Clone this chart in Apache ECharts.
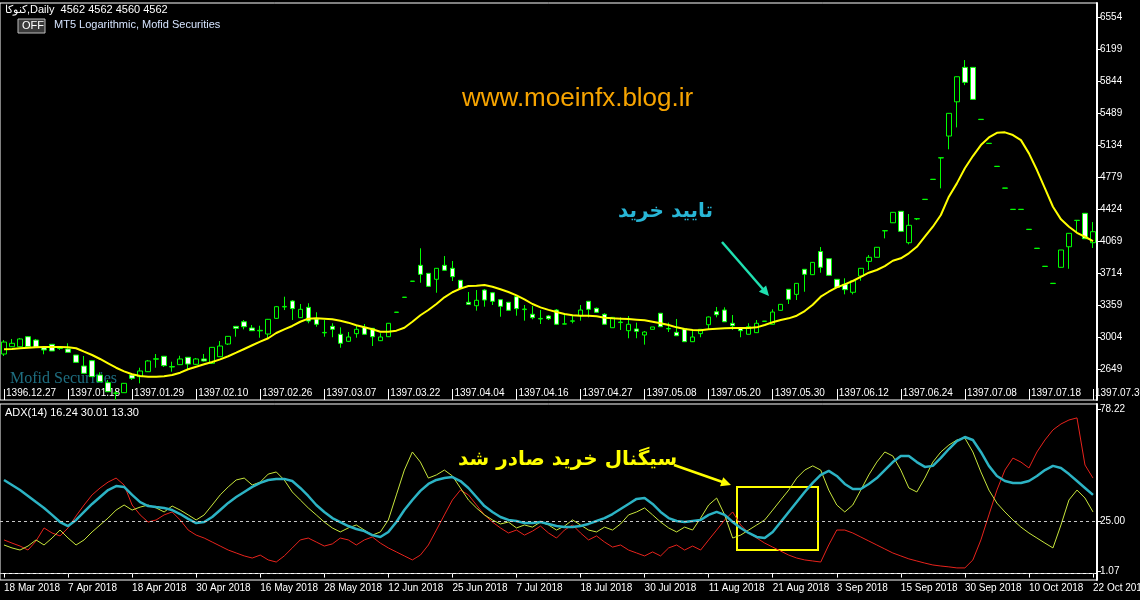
<!DOCTYPE html>
<html>
<head>
<meta charset="utf-8">
<script src="https://cdn.jsdelivr.net/npm/echarts@6/dist/echarts.min.js"></script>
<style>
  html, body { margin: 0; padding: 0; background: #000; }
  #chart { width: 1140px; height: 600px; }
</style>
</head>
<body>
<div id="chart"></div>
<script>
// daily candles, one row per bar: [open, close, low, high]
var candles = [
  [2815,2948,2793,2970],[2896,2934,2893,2982],[2896,2982,2893,2993],[3007,2896,2893,3014],[2970,2889,2882,2982],
  [2885,2860,2812,2885],[2923,2849,2849,2926],[2876,2880,2860,2896],[2871,2834,2834,2934],[2804,2723,2723,2804],
  [2682,2601,2601,2793],[2741,2564,2560,2749],[2582,2508,2505,2612],[2497,2397,2394,2527],[2379,2382,2305,2405],
  [2386,2490,2383,2494],[2582,2546,2527,2601],[2564,2627,2490,2663],[2619,2738,2616,2749],[2757,2763,2663,2815],
  [2790,2686,2671,2793],[2671,2676,2619,2730],[2697,2760,2693,2796],[2779,2704,2646,2782],[2701,2760,2693,2771],
  [2760,2738,2732,2815],[2712,2889,2704,2893],[2785,2904,2782,2959],[2926,3011,2915,3014],[3122,3100,3007,3125],
  [3173,3118,3089,3192],[3104,3074,3070,3137],[3072,3078,2996,3129],[3037,3200,2993,3204],[3211,3340,3204,3348],
  [3337,3343,3303,3451],[3403,3318,3192,3414],[3218,3311,3215,3370],[3333,3181,3156,3378],[3204,3145,3118,3278],
  [3050,3055,3007,3192],[3122,3089,3001,3156],[3034,2934,2885,3111],[2956,3004,2948,3059],[3041,3089,2996,3137],
  [3111,3034,3026,3148],[3100,3007,2904,3104],[2963,3004,2959,3045],[3007,3156,3004,3159],[3277,3280,3277,3280],
  [3443,3446,3443,3446],[3621,3624,3621,3624],[3799,3699,3606,3988],[3710,3566,3564,3713],[3644,3766,3495,3769],
  [3799,3744,3741,3902],[3766,3673,3625,3847],[3633,3540,3536,3636],[3389,3366,3364,3503],[3351,3411,3296,3525],
  [3525,3414,3340,3536],[3495,3400,3359,3503],[3418,3344,3229,3425],[3389,3300,3297,3392],[3451,3318,3240,3458],
  [3308,3314,3185,3359],[3256,3218,3200,3348],[3204,3210,3148,3303],[3237,3207,3192,3248],[3303,3145,3137,3314],
  [3147,3150,3145,3267],[3179,3183,3156,3248],[3240,3303,3185,3359],[3400,3311,3222,3403],[3322,3278,3270,3331],
  [3256,3145,3143,3267],[3107,3222,3104,3226],[3164,3170,3082,3222],[3074,3145,2990,3237],[3093,3067,2990,3163],
  [3026,3059,2919,3070],[3089,3115,3089,3115],[3267,3118,3115,3270],[3094,3098,3059,3163],[3056,3018,3015,3204],
  [3096,2952,2948,3098],[2952,3004,2948,3070],[3041,3089,3001,3093],[3140,3226,3082,3231],[3284,3251,3222,3337],
  [3303,3173,3170,3333],[3156,3129,3082,3248],[3107,3074,3001,3109],[3034,3118,3032,3156],[3052,3156,3048,3192],
  [3177,3180,3177,3180],[3145,3281,3143,3311],[3300,3366,3297,3370],[3533,3422,3370,3536],[3477,3599,3414,3603],
  [3755,3699,3506,3758],[3695,3832,3692,3836],[3952,3777,3717,4002],[3872,3688,3686,3874],[3644,3555,3553,3647],
  [3588,3529,3477,3655],[3500,3628,3477,3630],[3680,3766,3628,3769],[3843,3888,3747,3913],[3888,3999,3885,4002],
  [4181,4184,4098,4184],[4271,4387,4268,4390],[4398,4176,4174,4401],[4050,4243,4032,4368],[4314,4317,4301,4317],
  [4529,4532,4529,4532],[4751,4754,4751,4754],[4990,4993,4653,4993],[5233,5485,5086,5488],[5613,5891,5329,5893],
  [5995,5829,5798,6076],[5995,5640,5638,5998],[5416,5419,5416,5419],[5150,5153,5150,5153],[4895,4898,4895,4898],
  [4654,4657,4654,4657],[4418,4421,4418,4421],[4418,4421,4418,4421],[4196,4199,4196,4199],[3986,3989,3986,3989],
  [3786,3789,3786,3789],[3597,3600,3597,3600],[3777,3969,3775,3969],[4005,4154,3761,4157],[4296,4299,4172,4299],
  [4376,4094,4091,4379],[4050,4172,3991,4279]
];

// yellow moving average
var ma = [
  2867,2871,2879,2885,2889,2893,2893,2893,2889,2879,
  2841,2804,2760,2712,2663,2623,2590,2571,2564,2564,
  2568,2582,2608,2646,2674,2701,2726,2756,2790,2830,
  2871,2912,2952,2990,3048,3089,3126,3173,3207,3211,
  3207,3200,3185,3163,3134,3111,3089,3063,3063,3074,
  3107,3173,3245,3303,3370,3444,3500,3540,3570,3573,
  3581,3562,3533,3503,3466,3422,3370,3333,3305,3281,
  3259,3245,3240,3240,3233,3218,3211,3207,3203,3196,
  3189,3173,3156,3137,3111,3092,3081,3078,3089,3096,
  3100,3104,3104,3104,3111,3137,3167,3192,3211,3240,
  3292,3362,3451,3506,3555,3588,3625,3672,3717,3747,
  3791,3850,3877,3932,4005,4116,4227,4357,4560,4708,
  4875,5011,5133,5218,5269,5274,5244,5188,5041,4856,
  4653,4449,4309,4227,4160,4116,4068
];

// ADX(14) panel
var adx = [
  44.5,42.1,39.7,36.9,34.0,31.2,27.9,24.5,22.6,25.5,
  29.3,33.1,36.4,39.7,41.6,41.2,37.4,34.0,32.1,31.6,
  31.2,30.2,28.3,26.0,24.0,24.5,26.9,30.2,33.6,36.4,
  38.8,41.2,43.1,44.5,45.0,45.0,44.0,40.7,36.9,32.6,
  29.3,26.4,24.5,22.6,21.2,20.2,18.3,17.4,19.8,24.5,
  30.2,35.0,39.3,42.6,44.5,45.4,45.9,44.0,40.7,36.4,
  32.1,29.3,26.9,25.5,25.0,24.0,24.0,24.5,23.6,22.6,
  22.1,22.1,22.6,23.6,25.0,26.4,28.3,30.7,33.1,35.5,
  35.9,33.1,29.3,26.4,25.0,24.5,25.0,25.5,27.9,29.3,
  27.9,24.5,21.7,19.3,17.4,16.9,19.8,24.5,29.3,34.0,
  38.8,43.1,46.9,48.8,46.4,42.6,40.2,40.2,42.6,45.4,
  49.2,53.0,55.9,55.9,53.0,50.7,51.2,55.0,59.2,63.0,
  64.9,63.5,57.8,51.2,46.4,44.0,43.1,43.1,44.0,46.4,
  49.2,51.2,50.2,47.3,44.0,40.7,37.4
];
var plusDI = [
  13.6,12.2,11.2,13.1,16.0,13.6,16.9,20.7,16.9,13.6,
  16.0,19.8,23.1,26.4,30.2,32.6,30.2,31.6,32.6,31.2,
  29.3,32.1,30.2,27.9,25.5,27.9,32.6,37.4,41.2,44.5,
  45.4,42.1,43.5,47.3,48.3,44.5,38.8,35.0,31.2,27.9,
  24.5,21.7,19.8,21.7,23.1,20.7,18.3,19.8,25.5,37.4,
  49.2,57.8,53.0,45.4,46.9,49.2,46.4,40.7,35.0,31.2,
  27.9,25.5,23.6,24.5,21.7,23.1,22.1,24.5,23.1,20.7,
  22.6,25.5,23.1,20.7,19.8,22.1,20.7,23.6,27.9,29.3,
  31.2,27.9,24.5,21.7,19.8,22.1,20.7,26.4,32.6,35.9,
  27.9,16.9,18.3,20.7,23.1,25.5,30.2,35.0,39.7,45.4,
  49.2,51.2,49.2,39.7,32.6,29.3,32.6,39.7,46.9,53.0,
  57.8,55.9,49.2,40.7,38.8,45.4,53.0,57.8,61.1,63.5,
  64.4,57.8,48.3,39.7,33.5,29.3,25.5,22.1,19.3,16.9,
  14.5,12.2,23.1,35.0,39.7,35.9,29.3
];
var minusDI = [
  16.0,14.5,13.1,11.2,15.5,21.7,19.3,17.9,21.7,27.4,
  32.6,37.4,40.7,43.5,45.4,42.1,32.6,27.9,24.5,25.5,
  27.9,29.3,25.5,20.7,18.3,16.9,15.0,13.1,11.2,9.8,
  8.4,7.4,8.8,6.5,5.5,8.4,12.2,16.0,16.9,15.0,
  13.1,14.1,16.9,16.0,13.6,16.0,17.4,14.5,12.2,10.3,
  8.4,6.5,8.8,13.6,20.7,27.9,35.0,39.7,37.4,32.6,
  27.9,24.5,21.7,19.3,20.7,18.3,20.2,22.6,19.3,16.9,
  20.7,23.1,19.3,16.0,17.9,15.0,12.6,13.6,11.2,9.8,
  8.4,10.3,8.4,12.2,13.6,11.2,13.1,11.2,16.0,20.7,
  25.5,29.3,23.1,19.3,16.9,14.5,12.6,10.7,8.8,7.4,
  6.5,6.0,5.5,13.6,20.7,20.7,19.3,17.4,15.5,13.6,
  11.7,9.8,8.4,7.0,6.0,5.0,4.1,3.6,3.2,2.7,
  2.7,6.5,16.0,27.9,39.7,49.2,54.9,53.0,50.2,57.8,
  63.5,68.3,71.1,73.0,74.0,51.6,45.4
];

// time labels, one every 8 bars
var persianTicks = ['1396.12.27','1397.01.18','1397.01.29','1397.02.10','1397.02.26','1397.03.07',
  '1397.03.22','1397.04.04','1397.04.16','1397.04.27','1397.05.08','1397.05.20','1397.05.30',
  '1397.06.12','1397.06.24','1397.07.08','1397.07.18','1397.07.30'];
var gregorianTicks = ['18 Mar 2018','7 Apr 2018','18 Apr 2018','30 Apr 2018','16 May 2018','28 May 2018',
  '12 Jun 2018','25 Jun 2018','7 Jul 2018','18 Jul 2018','30 Jul 2018','11 Aug 2018','21 Aug 2018',
  '3 Sep 2018','15 Sep 2018','30 Sep 2018','10 Oct 2018','22 Oct 2018'];
var priceTicks = [2649,3004,3359,3714,4069,4424,4779,5134,5489,5844,6199,6554];
var adxTicks = [0, 1.07, 25, 78.22];

var bars = candles.map(function (c, i) { return String(i); });
var every8 = function (i) { return i % 8 === 0; };

var chart = echarts.init(document.getElementById('chart'), null, { renderer: 'canvas' });

function arrow(x1, y1, x2, y2, color) {
  var a = Math.atan2(y2 - y1, x2 - x1), L = 11, W = 0.45;
  return {
    type: 'group',
    children: [
      { type: 'line', shape: { x1: x1, y1: y1, x2: x2 - 6 * Math.cos(a), y2: y2 - 6 * Math.sin(a) },
        style: { stroke: color, lineWidth: 2.5 } },
      { type: 'polygon', shape: { points: [
          [x2, y2],
          [x2 - L * Math.cos(a - W), y2 - L * Math.sin(a - W)],
          [x2 - L * Math.cos(a + W), y2 - L * Math.sin(a + W)]
        ] }, style: { fill: color } }
    ]
  };
}

var font = 'Liberation Sans, Arial, sans-serif';

var option = {
  backgroundColor: '#000000',
  animation: false,
  grid: [
    { left: 0, top: 3, width: 1097, height: 397, show: true, borderColor: '#ffffff', borderWidth: 1,
      backgroundColor: '#000000', outerBoundsMode: 'none' },
    { left: 0, top: 404, width: 1097, height: 176, show: true, borderColor: '#ffffff', borderWidth: 1,
      backgroundColor: '#000000', outerBoundsMode: 'none' }
  ],
  xAxis: [
    {
      type: 'category', gridIndex: 0, data: bars, boundaryGap: true,
      axisLine: { show: false },
      axisTick: { show: true, inside: true, length: 11, alignWithLabel: true, interval: every8,
        lineStyle: { color: '#ffffff', width: 1 } },
      axisLabel: { show: true, inside: true, interval: every8, align: 'left', margin: 2, padding: [0, 0, 0, 2],
        color: '#ffffff', fontSize: 10, fontFamily: font,
        formatter: function (v, i) { return persianTicks[i / 8] || ''; } },
      splitLine: { show: false }
    },
    {
      type: 'category', gridIndex: 1, data: bars, boundaryGap: true,
      axisLine: { show: true, lineStyle: { color: '#ffffff', width: 1 } },
      axisTick: { show: true, length: 4, alignWithLabel: true, interval: every8,
        lineStyle: { color: '#ffffff' } },
      axisLabel: { show: true, interval: every8, align: 'left', margin: 3,
        color: '#ffffff', fontSize: 10, fontFamily: font,
        formatter: function (v, i) { return gregorianTicks[i / 8] || ''; } },
      splitLine: { show: false }
    }
  ],
  yAxis: [
    {
      type: 'value', gridIndex: 0, position: 'right', min: 2305, max: 6709, scale: true,
      axisLine: { show: true, lineStyle: { color: '#ffffff', width: 2 } },
      axisTick: { show: true, length: 4, customValues: priceTicks, lineStyle: { color: '#ffffff' } },
      axisLabel: { show: true, margin: 3, customValues: priceTicks, color: '#ffffff', fontSize: 10, fontFamily: font,
        formatter: function (v) { return String(v); } },
      splitLine: { show: false }
    },
    {
      type: 'value', gridIndex: 1, position: 'right', min: -3.04, max: 80.6,
      axisLine: { show: true, lineStyle: { color: '#ffffff', width: 2 } },
      axisTick: { show: true, length: 4, customValues: adxTicks, lineStyle: { color: '#ffffff' } },
      axisLabel: { show: true, margin: 3, customValues: adxTicks, color: '#ffffff', fontSize: 10, fontFamily: font,
        formatter: function (v) { return v.toFixed(2); } },
      splitLine: { show: false }
    }
  ],
  series: [
    {
      name: 'price', type: 'candlestick', xAxisIndex: 0, yAxisIndex: 0, data: candles, barWidth: 5,
      itemStyle: { color: '#000000', color0: '#ffffff', borderColor: '#00ff00', borderColor0: '#00ff00', borderWidth: 1 }
    },
    {
      name: 'MA', type: 'line', xAxisIndex: 0, yAxisIndex: 0, data: ma, symbol: 'none',
      lineStyle: { color: '#ffff00', width: 2 }
    },
    {
      name: '-DI', type: 'line', xAxisIndex: 1, yAxisIndex: 1, data: minusDI, symbol: 'none',
      lineStyle: { color: '#e8231c', width: 1 }
    },
    {
      name: '+DI', type: 'line', xAxisIndex: 1, yAxisIndex: 1, data: plusDI, symbol: 'none',
      lineStyle: { color: '#c8e63c', width: 1 }
    },
    {
      name: 'ADX', type: 'line', xAxisIndex: 1, yAxisIndex: 1, data: adx, symbol: 'none',
      lineStyle: { color: '#2cb3c4', width: 2.5 },
      markLine: {
        silent: true, symbol: 'none', label: { show: false },
        lineStyle: { color: '#c8c8c8', type: [3, 3], width: 1 },
        data: [{ yAxis: 25 }, { yAxis: 0 }]
      }
    }
  ],
  graphic: [
    { type: 'text', left: 5, top: 4, style: { text: 'کنوکا,Daily  4562 4562 4560 4562', fill: '#ffffff',
      font: '11px ' + font } },
    { type: 'rect', shape: { x: 18, y: 19, width: 27, height: 14 },
      style: { fill: '#3a3a3a', stroke: '#bdbdbd', lineWidth: 1 } },
    { type: 'text', left: 22, top: 20, style: { text: 'OFF', fill: '#ffffff', font: '11px ' + font } },
    { type: 'text', left: 54, top: 19, style: { text: 'MT5 Logarithmic, Mofid Securities', fill: '#d6e4ff',
      font: '11px ' + font } },
    { type: 'text', left: 462, top: 86, style: { text: 'www.moeinfx.blog.ir', fill: '#f7a400',
      font: '26px ' + font } },
    { type: 'text', left: 618, top: 202, style: { text: 'تایید خرید', fill: '#28b6d6',
      font: 'bold 20px DejaVu Sans, sans-serif' } },
    arrow(722, 242, 769, 296, '#1fe0b0'),
    { type: 'text', left: 458, top: 450, style: { text: 'سیگنال خرید صادر شد', fill: '#ffff00',
      font: 'bold 20px DejaVu Sans, sans-serif' } },
    arrow(674, 465, 731, 485, '#ffff00'),
    { type: 'rect', shape: { x: 737, y: 487, width: 81, height: 63 },
      style: { fill: 'none', stroke: '#ffff00', lineWidth: 2 } },
    { type: 'text', left: 10, top: 371, style: { text: 'Mofid Securities', fill: '#1e6e80',
      font: '16px Liberation Serif, serif' } },
    { type: 'text', left: 5, top: 407, style: { text: 'ADX(14) 16.24 30.01 13.30', fill: '#ffffff',
      font: '11px ' + font } }
  ]
};

chart.setOption(option);
</script>
</body>
</html>
